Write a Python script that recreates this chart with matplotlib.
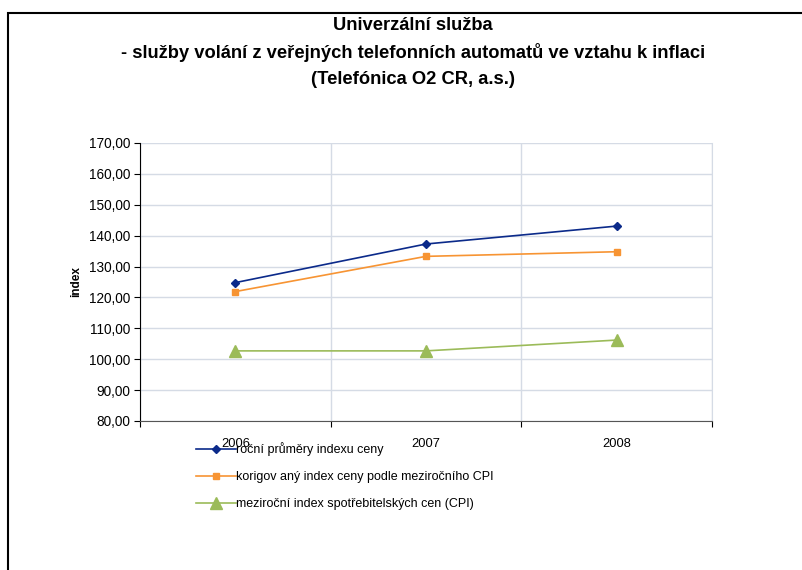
import matplotlib
matplotlib.use("Agg")
import matplotlib.pyplot as plt
from matplotlib.patches import Rectangle

plt.rcParams['font.family'] = ['Liberation Sans', 'DejaVu Sans']

years = ["2006", "2007", "2008"]
price_index = [124.8, 137.3, 143.1]
corrected_index = [121.9, 133.3, 134.8]
cpi = [102.7, 102.7, 106.2]
series_labels = ["roční průměry indexu ceny",
                 "korigov aný index ceny podle meziročního CPI",
                 "meziroční index spotřebitelských cen (CPI)"]
title_lines = ["Univerzální služba",
               "- služby volání z veřejných telefonních automatů ve vztahu k inflaci",
               "(Telefónica O2 CR, a.s.)"]
yticks = list(range(80, 171, 10))

fig = plt.figure(figsize=(8.02, 5.70), dpi=100)
ax = fig.add_axes([140/802, 1-421/570, (712-140)/802, (421-143)/570])

x = list(range(len(years)))
grid_c = "#d5dbe5"
ax.plot(x, price_index, color="#0b2a8a", marker="D", markersize=4, lw=1.2, label=series_labels[0])
ax.plot(x, corrected_index, color="#f79433", marker="s", markersize=4.5, lw=1.2, label=series_labels[1])
ax.plot(x, cpi, color="#9bbb59", marker="^", markersize=8, lw=1.2, label=series_labels[2])

ax.set_xlim(-0.5, len(years) - 0.5)
ax.set_ylim(80, 170)
ax.set_yticks(yticks)
ax.set_yticklabels([f"{v},00" for v in yticks], fontsize=9.8)
ax.set_xticks([i + 0.5 for i in range(-1, len(years))])
ax.set_xticklabels([])
ax.set_xticks(x, minor=True)
ax.set_xticklabels(years, minor=True, fontsize=9.3)
ax.tick_params(axis='x', which='minor', length=0, pad=12)
ax.tick_params(axis='x', which='major', length=4, direction='out', color='black')
ax.tick_params(axis='y', length=4, direction='out', color='black', pad=3)
ax.grid(True, which='major', color=grid_c, lw=1)
ax.set_axisbelow(True)
ax.spines['top'].set_visible(False)
ax.spines['right'].set_color(grid_c)
ax.spines['left'].set_color('black')
ax.spines['bottom'].set_color('#555555')
ax.set_ylabel("index", fontsize=8.5, fontweight='bold', labelpad=5)

for yy, line in zip([25, 52, 78], title_lines):
    fig.text(413/802, 1-(yy+1)/570, line, ha='center', va='center', fontsize=13.2,
             fontweight='bold')

leg = fig.legend(loc='upper left', bbox_to_anchor=(191/802, 1-437/570), frameon=False,
                 fontsize=9, handlelength=3.2, handletextpad=0.0, labelspacing=1.22,
                 borderaxespad=0)

fig.patches.append(Rectangle((8/802, -0.1), 1.2, 1-13/570+0.1, transform=fig.transFigure,
                             fill=False, edgecolor='black', lw=1.5, figure=fig))

fig.savefig("out.png", dpi=100)
